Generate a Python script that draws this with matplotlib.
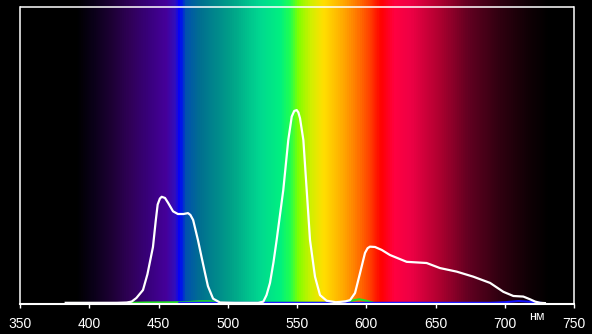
import matplotlib.pyplot as plt
import numpy as np
from matplotlib.colors import LinearSegmentedColormap

wl = [383, 400, 420, 427, 430.6, 434, 438.8, 442, 446, 448, 449.4, 451, 452.3, 454.7,
      457, 460.5, 464, 468, 471.3, 473, 475, 478.5, 481, 483.6, 485.7, 489.4, 494.4,
      505, 515, 522, 525.7, 528, 530.5, 533, 535.3, 540.1, 543.7, 546.2, 548, 549.8,
      551, 552.2, 554.6, 557, 559.4, 563, 566.6, 571.4, 578, 581, 585, 588.3, 591.9,
      595.5, 599.1, 601, 602.7, 606.3, 611.2, 617.1, 629.2, 643.6, 653.2, 665.3,
      677.3, 689.4, 699, 706.2, 713.4, 718.2, 722, 725.5, 729]
white = [0.004, 0.004, 0.004, 0.005, 0.008, 0.020, 0.047, 0.100, 0.192, 0.280, 0.335,
         0.355, 0.361, 0.357, 0.340, 0.312, 0.303, 0.303, 0.306, 0.300, 0.283, 0.215,
         0.160, 0.104, 0.060, 0.018, 0.005, 0.004, 0.004, 0.004, 0.008, 0.030, 0.071,
         0.140, 0.215, 0.384, 0.552, 0.631, 0.650, 0.653, 0.645, 0.625, 0.552, 0.384,
         0.215, 0.092, 0.030, 0.011, 0.006, 0.007, 0.009, 0.013, 0.037, 0.104, 0.172,
         0.188, 0.193, 0.192, 0.182, 0.165, 0.142, 0.138, 0.121, 0.109, 0.092, 0.071,
         0.041, 0.027, 0.025, 0.016, 0.008, 0.004, 0.003]

# faint green and blue channels along the baseline
wl_green = [430, 440, 470, 480, 487, 493, 500, 585, 590, 595, 600, 605]
green = [0.004, 0.005, 0.006, 0.009, 0.009, 0.005, 0.004, 0.004, 0.012, 0.016, 0.011, 0.004]
wl_blue = [465, 490, 600, 690, 700, 710, 720, 726]
blue = [0.004, 0.004, 0.004, 0.004, 0.006, 0.010, 0.007, 0.004]

xticks = [350, 400, 450, 500, 550, 600, 650, 700, 750]

# background spectrum colours (nm, colour)
spec = [(350, '#000000'), (390, '#000000'), (402, '#0a0018'), (415, '#1c0033'),
        (429, '#300058'), (444, '#3a0080'), (455, '#45009a'), (462, '#3010c0'),
        (465, '#0000ff'), (469, '#0050b0'), (480, '#007090'), (502, '#00a088'),
        (523, '#00d890'), (538, '#00f080'), (545, '#20ff50'), (551, '#80ff00'),
        (560, '#d0f000'), (569, '#ffe000'), (580, '#ffb800'), (592, '#ff8000'),
        (603, '#ff4000'), (611, '#ff0000'), (621, '#ff0040'), (632, '#f00045'),
        (653, '#b00030'), (675, '#600020'), (697, '#300010'), (718, '#100005'),
        (733, '#000000'), (750, '#000000')]

cmap = LinearSegmentedColormap.from_list(
    'spec', [((w - 350) / 400, c) for w, c in spec])

fig = plt.figure(figsize=(5.92, 3.34), dpi=100, facecolor='black')
ax = fig.add_axes([20 / 592, 30 / 334, 554 / 592, 304 / 334])
ax.set_facecolor('black')

top = 304 / 297
ax.imshow(np.linspace(0, 1, 800)[None, :], cmap=cmap, aspect='auto',
          extent=[350, 750, 0, top], zorder=0)

ax.plot(wl_green, green, color='#20e020', lw=1.5, zorder=2)
ax.plot(wl_blue, blue, color='#1010ff', lw=1.5, zorder=2)
ax.plot(wl, white, color='white', lw=1.6, zorder=3, solid_joinstyle='round')

ax.set_xlim(350, 750)
ax.set_ylim(0, top)
ax.axhline(1.0, color='white', lw=1.1, zorder=4)

for s in ['left', 'right']:
    ax.spines[s].set_color('white')
    ax.spines[s].set_linewidth(1.1)
    ax.spines[s].set_bounds(0, 1.0)
ax.spines['bottom'].set_color('white')
ax.spines['bottom'].set_linewidth(1.5)
ax.spines['top'].set_visible(False)

ax.set_xticks(xticks)
ax.set_yticks([])
ax.tick_params(axis='x', colors='white', length=3, width=1, pad=6)
for lbl in ax.get_xticklabels():
    lbl.set_fontfamily('Liberation Sans')
    lbl.set_fontsize(10)

ax.text(723, -0.022, 'нм', color='white', fontsize=9, ha='center', va='top',
        family='Liberation Sans')

fig.savefig('out.png', dpi=100, facecolor='black')
